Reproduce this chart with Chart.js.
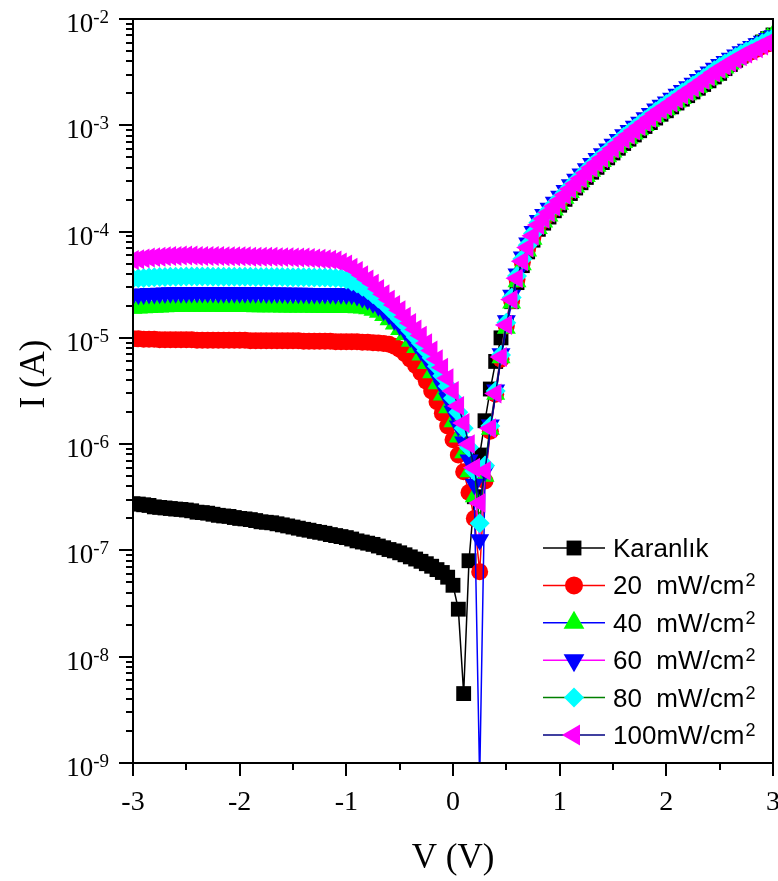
<!DOCTYPE html>
<html>
<head>
<meta charset="utf-8">
<script src="https://cdn.jsdelivr.net/npm/chart.js@4.4.1/dist/chart.umd.min.js"></script>
<style>
  html, body { margin: 0; padding: 0; background: #fff; }
  #wrap { width: 778px; height: 881px; position: relative; }
</style>
</head>
<body>
<div id="wrap"><canvas id="grafico"></canvas></div>
<script>
// tensao (V)
const voltage = [
  -3, -2.95, -2.9, -2.85, -2.8, -2.75, -2.7, -2.65, -2.6, -2.55,
  -2.5, -2.45, -2.4, -2.35, -2.3, -2.25, -2.2, -2.15, -2.1, -2.05,
  -2, -1.95, -1.9, -1.85, -1.8, -1.75, -1.7, -1.65, -1.6, -1.55,
  -1.5, -1.45, -1.4, -1.35, -1.3, -1.25, -1.2, -1.15, -1.1, -1.05,
  -1, -0.95, -0.9, -0.85, -0.8, -0.75, -0.7, -0.65, -0.6, -0.55,
  -0.5, -0.45, -0.4, -0.35, -0.3, -0.25, -0.2, -0.15, -0.1, -0.05,
  0, 0.05, 0.1, 0.15, 0.2, 0.25, 0.3, 0.35, 0.4, 0.45,
  0.5, 0.55, 0.6, 0.65, 0.7, 0.75, 0.8, 0.85, 0.9, 0.95,
  1, 1.05, 1.1, 1.15, 1.2, 1.25, 1.3, 1.35, 1.4, 1.45,
  1.5, 1.55, 1.6, 1.65, 1.7, 1.75, 1.8, 1.85, 1.9, 1.95,
  2, 2.05, 2.1, 2.15, 2.2, 2.25, 2.3, 2.35, 2.4, 2.45,
  2.5, 2.55, 2.6, 2.65, 2.7, 2.75, 2.8, 2.85, 2.9, 2.95,
  3
];

// corrente (A)
const karanlik = [
  2.75e-7, 2.73e-7, 2.69e-7, 2.65e-7, 2.57e-7, 2.54e-7, 2.51e-7, 2.48e-7, 2.45e-7, 2.43e-7,
  2.40e-7, 2.36e-7, 2.29e-7, 2.27e-7, 2.24e-7, 2.19e-7, 2.14e-7, 2.11e-7, 2.09e-7, 2.04e-7,
  2.00e-7, 1.98e-7, 1.95e-7, 1.91e-7, 1.86e-7, 1.84e-7, 1.82e-7, 1.78e-7, 1.74e-7, 1.70e-7,
  1.66e-7, 1.62e-7, 1.58e-7, 1.55e-7, 1.51e-7, 1.48e-7, 1.45e-7, 1.41e-7, 1.38e-7, 1.35e-7,
  1.32e-7, 1.28e-7, 1.23e-7, 1.20e-7, 1.17e-7, 1.14e-7, 1.10e-7, 1.06e-7, 1.02e-7, 9.9e-8,
  9.5e-8, 9.1e-8, 8.7e-8, 8.3e-8, 7.9e-8, 7.5e-8, 7.1e-8, 6.6e-8, 6.2e-8, 5.6e-8,
  4.7e-8, 2.8e-8, 4.5e-9, 8.0e-8, 3.2e-7, 7.9e-7, 1.66e-6, 3.3e-6, 6.0e-6, 1.0e-5,
  1.38e-5, 2.19e-5, 3.31e-5, 4.78e-5, 6.44e-5, 8.3e-5, 1.05e-4, 1.2e-4, 1.37e-4, 1.57e-4,
  1.77e-4, 2.01e-4, 2.28e-4, 2.57e-4, 2.88e-4, 3.23e-4, 3.62e-4, 4.02e-4, 4.46e-4, 4.94e-4,
  5.49e-4, 6.08e-4, 6.74e-4, 7.4e-4, 8.11e-4, 8.89e-4, 9.74e-4, 1.06e-3, 1.17e-3, 1.27e-3,
  1.37e-3, 1.49e-3, 1.62e-3, 1.76e-3, 1.9e-3, 2.06e-3, 2.23e-3, 2.42e-3, 2.62e-3, 2.85e-3,
  3.08e-3, 3.41e-3, 3.73e-3, 4.09e-3, 4.47e-3, 4.83e-3, 5.21e-3, 5.63e-3, 6.07e-3, 6.55e-3,
  7.07e-3
];
const p20 = [
  9.8e-6, 9.8e-6, 9.7e-6, 9.7e-6, 9.7e-6, 9.6e-6, 9.6e-6, 9.6e-6, 9.6e-6, 9.6e-6,
  9.6e-6, 9.6e-6, 9.5e-6, 9.5e-6, 9.5e-6, 9.5e-6, 9.5e-6, 9.5e-6, 9.5e-6, 9.5e-6,
  9.5e-6, 9.5e-6, 9.4e-6, 9.4e-6, 9.4e-6, 9.4e-6, 9.4e-6, 9.4e-6, 9.4e-6, 9.4e-6,
  9.4e-6, 9.4e-6, 9.3e-6, 9.3e-6, 9.3e-6, 9.3e-6, 9.3e-6, 9.3e-6, 9.2e-6, 9.2e-6,
  9.2e-6, 9.2e-6, 9.2e-6, 9.1e-6, 9.1e-6, 9.0e-6, 8.95e-6, 8.85e-6, 8.7e-6, 8.35e-6,
  7.8e-6, 7.1e-6, 6.3e-6, 5.5e-6, 4.7e-6, 3.9e-6, 3.16e-6, 2.5e-6, 1.95e-6, 1.48e-6,
  1.1e-6, 7.9e-7, 5.5e-7, 3.5e-7, 2.0e-7, 6.3e-8, 4.5e-7, 1.32e-6, 2.95e-6, 6.3e-6,
  1.29e-5, 2.24e-5, 3.56e-5, 5.15e-5, 6.94e-5, 8.94e-5, 1.13e-4, 1.29e-4, 1.48e-4, 1.69e-4,
  1.91e-4, 2.17e-4, 2.46e-4, 2.76e-4, 3.1e-4, 3.48e-4, 3.9e-4, 4.33e-4, 4.8e-4, 5.32e-4,
  5.91e-4, 6.55e-4, 7.26e-4, 7.97e-4, 8.73e-4, 9.57e-4, 1.05e-3, 1.15e-3, 1.26e-3, 1.37e-3,
  1.48e-3, 1.61e-3, 1.74e-3, 1.89e-3, 2.05e-3, 2.21e-3, 2.4e-3, 2.61e-3, 2.82e-3, 3.07e-3,
  3.32e-3, 3.56e-3, 3.81e-3, 4.09e-3, 4.38e-3, 4.64e-3, 4.91e-3, 5.2e-3, 5.51e-3, 5.84e-3,
  6.18e-3
];
const p40 = [
  1.90e-5, 1.91e-5, 1.92e-5, 1.93e-5, 1.94e-5, 1.95e-5, 1.96e-5, 1.97e-5, 1.97e-5, 1.98e-5,
  1.98e-5, 1.98e-5, 1.98e-5, 1.98e-5, 1.98e-5, 1.98e-5, 1.98e-5, 1.97e-5, 1.97e-5, 1.97e-5,
  1.97e-5, 1.97e-5, 1.97e-5, 1.96e-5, 1.96e-5, 1.96e-5, 1.96e-5, 1.96e-5, 1.95e-5, 1.95e-5,
  1.95e-5, 1.95e-5, 1.95e-5, 1.95e-5, 1.94e-5, 1.94e-5, 1.94e-5, 1.94e-5, 1.93e-5, 1.93e-5,
  1.93e-5, 1.93e-5, 1.92e-5, 1.91e-5, 1.88e-5, 1.82e-5, 1.74e-5, 1.62e-5, 1.48e-5, 1.35e-5,
  1.20e-5, 1.07e-5, 9.3e-6, 8.1e-6, 6.9e-6, 5.75e-6, 4.7e-6, 3.7e-6, 2.9e-6, 2.2e-6,
  1.62e-6, 1.17e-6, 8.3e-7, 5.5e-7, 3.2e-7, 7e-10, 5.0e-7, 1.38e-6, 2.95e-6, 6.5e-6,
  1.23e-5, 2.13e-5, 3.38e-5, 4.88e-5, 6.58e-5, 8.48e-5, 1.07e-4, 1.23e-4, 1.4e-4, 1.6e-4,
  1.81e-4, 2.06e-4, 2.33e-4, 2.62e-4, 2.94e-4, 3.3e-4, 3.7e-4, 4.11e-4, 4.56e-4, 5.05e-4,
  5.61e-4, 6.21e-4, 6.89e-4, 7.56e-4, 8.29e-4, 9.09e-4, 9.95e-4, 1.09e-3, 1.2e-3, 1.3e-3,
  1.4e-3, 1.53e-3, 1.66e-3, 1.79e-3, 1.94e-3, 2.1e-3, 2.28e-3, 2.47e-3, 2.68e-3, 2.91e-3,
  3.15e-3, 3.45e-3, 3.77e-3, 4.13e-3, 4.51e-3, 4.87e-3, 5.26e-3, 5.68e-3, 6.13e-3, 6.62e-3,
  7.13e-3
];
const p60 = [
  2.55e-5, 2.57e-5, 2.59e-5, 2.61e-5, 2.62e-5, 2.63e-5, 2.64e-5, 2.65e-5, 2.66e-5, 2.66e-5,
  2.66e-5, 2.67e-5, 2.67e-5, 2.67e-5, 2.67e-5, 2.67e-5, 2.66e-5, 2.66e-5, 2.66e-5, 2.66e-5,
  2.66e-5, 2.65e-5, 2.65e-5, 2.65e-5, 2.65e-5, 2.64e-5, 2.64e-5, 2.64e-5, 2.64e-5, 2.63e-5,
  2.63e-5, 2.63e-5, 2.63e-5, 2.62e-5, 2.62e-5, 2.62e-5, 2.61e-5, 2.61e-5, 2.60e-5, 2.60e-5,
  2.59e-5, 2.57e-5, 2.51e-5, 2.40e-5, 2.29e-5, 2.14e-5, 2.0e-5, 1.82e-5, 1.66e-5, 1.48e-5,
  1.32e-5, 1.17e-5, 1.02e-5, 8.9e-6, 7.6e-6, 6.5e-6, 5.4e-6, 4.4e-6, 3.5e-6, 2.7e-6,
  2.04e-6, 1.48e-6, 1.05e-6, 7.1e-7, 4.2e-7, 1.26e-7, 5.6e-7, 1.51e-6, 3.24e-6, 7.1e-6,
  1.45e-5, 2.52e-5, 3.99e-5, 5.78e-5, 7.79e-5, 1.0e-4, 1.27e-4, 1.45e-4, 1.66e-4, 1.89e-4,
  2.15e-4, 2.43e-4, 2.76e-4, 3.1e-4, 3.48e-4, 3.9e-4, 4.38e-4, 4.86e-4, 5.39e-4, 5.97e-4,
  6.63e-4, 7.35e-4, 8.15e-4, 8.94e-4, 9.8e-4, 1.07e-3, 1.18e-3, 1.29e-3, 1.42e-3, 1.54e-3,
  1.66e-3, 1.8e-3, 1.96e-3, 2.12e-3, 2.3e-3, 2.49e-3, 2.7e-3, 2.93e-3, 3.17e-3, 3.44e-3,
  3.73e-3, 3.99e-3, 4.28e-3, 4.59e-3, 4.92e-3, 5.2e-3, 5.51e-3, 5.84e-3, 6.18e-3, 6.56e-3,
  6.94e-3
];
const p80 = [
  3.60e-5, 3.63e-5, 3.66e-5, 3.69e-5, 3.71e-5, 3.73e-5, 3.74e-5, 3.75e-5, 3.76e-5, 3.76e-5,
  3.77e-5, 3.77e-5, 3.77e-5, 3.77e-5, 3.77e-5, 3.76e-5, 3.76e-5, 3.76e-5, 3.76e-5, 3.75e-5,
  3.75e-5, 3.75e-5, 3.75e-5, 3.74e-5, 3.74e-5, 3.74e-5, 3.73e-5, 3.73e-5, 3.73e-5, 3.72e-5,
  3.72e-5, 3.72e-5, 3.71e-5, 3.71e-5, 3.70e-5, 3.70e-5, 3.69e-5, 3.68e-5, 3.66e-5, 3.63e-5,
  3.55e-5, 3.39e-5, 3.24e-5, 3.02e-5, 2.82e-5, 2.57e-5, 2.34e-5, 2.14e-5, 1.91e-5, 1.70e-5,
  1.51e-5, 1.35e-5, 1.17e-5, 1.02e-5, 8.9e-6, 7.6e-6, 6.5e-6, 5.4e-6, 4.4e-6, 3.5e-6,
  2.7e-6, 2.0e-6, 1.41e-6, 9.3e-7, 5.6e-7, 1.8e-7, 6.3e-7, 1.48e-6, 3.16e-6, 6.9e-6,
  1.39e-5, 2.4e-5, 3.81e-5, 5.51e-5, 7.43e-5, 9.58e-5, 1.21e-4, 1.39e-4, 1.59e-4, 1.81e-4,
  2.05e-4, 2.32e-4, 2.64e-4, 2.96e-4, 3.32e-4, 3.73e-4, 4.18e-4, 4.64e-4, 5.15e-4, 5.7e-4,
  6.33e-4, 7.01e-4, 7.78e-4, 8.54e-4, 9.36e-4, 1.03e-3, 1.12e-3, 1.23e-3, 1.35e-3, 1.47e-3,
  1.59e-3, 1.72e-3, 1.87e-3, 2.03e-3, 2.19e-3, 2.37e-3, 2.57e-3, 2.79e-3, 3.02e-3, 3.29e-3,
  3.56e-3, 3.81e-3, 4.08e-3, 4.38e-3, 4.69e-3, 4.97e-3, 5.26e-3, 5.58e-3, 5.9e-3, 6.26e-3,
  6.63e-3
];
const p100 = [
  5.4e-5, 5.5e-5, 5.6e-5, 5.7e-5, 5.75e-5, 5.8e-5, 5.85e-5, 5.9e-5, 5.9e-5, 5.95e-5,
  5.95e-5, 5.95e-5, 5.9e-5, 5.9e-5, 5.9e-5, 5.9e-5, 5.9e-5, 5.85e-5, 5.85e-5, 5.85e-5,
  5.85e-5, 5.85e-5, 5.8e-5, 5.8e-5, 5.8e-5, 5.8e-5, 5.8e-5, 5.75e-5, 5.75e-5, 5.75e-5,
  5.7e-5, 5.7e-5, 5.7e-5, 5.65e-5, 5.6e-5, 5.55e-5, 5.5e-5, 5.45e-5, 5.35e-5, 5.13e-5,
  4.9e-5, 4.57e-5, 4.27e-5, 3.89e-5, 3.55e-5, 3.24e-5, 2.88e-5, 2.57e-5, 2.29e-5, 2.04e-5,
  1.82e-5, 1.58e-5, 1.38e-5, 1.2e-5, 1.05e-5, 8.9e-6, 7.6e-6, 6.3e-6, 5.25e-6, 4.17e-6,
  3.16e-6, 2.29e-6, 1.58e-6, 1.0e-6, 6.0e-7, 2.8e-7, 5.6e-7, 1.41e-6, 3.0e-6, 6.6e-6,
  1.32e-5, 2.29e-5, 3.63e-5, 5.25e-5, 7.08e-5, 9.12e-5, 1.15e-4, 1.32e-4, 1.51e-4, 1.72e-4,
  1.95e-4, 2.21e-4, 2.51e-4, 2.82e-4, 3.16e-4, 3.55e-4, 3.98e-4, 4.42e-4, 4.9e-4, 5.43e-4,
  6.03e-4, 6.68e-4, 7.41e-4, 8.13e-4, 8.91e-4, 9.77e-4, 1.07e-3, 1.17e-3, 1.29e-3, 1.4e-3,
  1.51e-3, 1.64e-3, 1.78e-3, 1.93e-3, 2.09e-3, 2.26e-3, 2.45e-3, 2.66e-3, 2.88e-3, 3.13e-3,
  3.39e-3, 3.63e-3, 3.89e-3, 4.17e-3, 4.47e-3, 4.73e-3, 5.01e-3, 5.31e-3, 5.62e-3, 5.96e-3,
  6.31e-3
];

const rotulos = ["Karanlık", "20  mW/cm", "40  mW/cm", "60  mW/cm", "80  mW/cm", "100mW/cm"];
const xTicks = [-3, -2, -1, 0, 1, 2, 3];
const yExpoentes = [-9, -8, -7, -6, -5, -4, -3, -2];

// estilo de cada serie
const estilos = [
  { valores: karanlik, linha: "#000000", cor: "#000000", forma: "rect", r: 10.5, rot: 0, sup: false },
  { valores: p20, linha: "#ff0000", cor: "#ff0000", forma: "circle", r: 8.5, rot: 0, sup: true },
  { valores: p40, linha: "#0000ff", cor: "#00ff00", forma: "triangle", r: 11, rot: 0, sup: true },
  { valores: p60, linha: "#ff00ff", cor: "#0000ff", forma: "triangle", r: 11, rot: 180, sup: true },
  { valores: p80, linha: "#008000", cor: "#00ffff", forma: "rectRot", r: 10, rot: 0, sup: true },
  { valores: p100, linha: "#000080", cor: "#ff00ff", forma: "triangle", r: 11.5, rot: -90, sup: true }
];

const desenhaMarcador = (ctx, forma, x, y, r, rot, cor) => {
    ctx.fillStyle = cor;
    ctx.beginPath();
    if (forma === "circle") {
        ctx.arc(x, y, r, 0, Math.PI * 2);
    } else if (forma === "rect") {
        const s = r * Math.SQRT1_2;
        ctx.rect(x - s, y - s, 2 * s, 2 * s);
    } else if (forma === "rectRot") {
        ctx.moveTo(x - r, y); ctx.lineTo(x, y - r); ctx.lineTo(x + r, y); ctx.lineTo(x, y + r);
        ctx.closePath();
    } else {
        let a = rot * Math.PI / 180;
        for (let k = 0; k < 3; k++) {
            const px = x + Math.sin(a) * r, py = y - Math.cos(a) * r;
            if (k === 0) ctx.moveTo(px, py); else ctx.lineTo(px, py);
            a += Math.PI * 2 / 3;
        }
        ctx.closePath();
    }
    ctx.fill();
};

// eixos, ticks e titulos
const eixosPlugin = {
    id: "eixos",
    afterDatasetsDraw(chart) {
        const { ctx, chartArea: a, scales: { x, y } } = chart;
        ctx.save();
        ctx.strokeStyle = "#000";
        ctx.fillStyle = "#000";
        ctx.lineWidth = 2;
        ctx.strokeRect(a.left, a.top, a.right - a.left, a.bottom - a.top);

        ctx.beginPath();
        yExpoentes.forEach(e => {
            for (let k = 1; k <= 9; k++) {
                if (e === -2 && k > 1) break;
                const py = Math.round(y.getPixelForValue(k * Math.pow(10, e)));
                const len = k === 1 ? 14 : 7;
                ctx.moveTo(a.left - len, py);
                ctx.lineTo(a.left, py);
            }
        });
        for (let v = -3; v <= 3.001; v += 0.5) {
            const px = Math.round(x.getPixelForValue(v));
            const len = Math.abs(v - Math.round(v)) < 0.01 ? 13 : 7;
            ctx.moveTo(px, a.bottom);
            ctx.lineTo(px, a.bottom + len);
        }
        ctx.stroke();

        // rotulos do eixo y: 10^n
        ctx.textBaseline = "alphabetic";
        yExpoentes.forEach(e => {
            const py = y.getPixelForValue(Math.pow(10, e));
            ctx.font = '19px "Liberation Serif"';
            ctx.textAlign = "right";
            const exp = String(e);
            const w = ctx.measureText(exp).width;
            ctx.fillText(exp, 109, py + 4);
            ctx.font = '27px "Liberation Serif"';
            ctx.fillText("10", 109 - w, py + 13);
        });

        // rotulos do eixo x
        ctx.font = '28px "Liberation Serif"';
        ctx.textAlign = "center";
        xTicks.forEach(v => {
            ctx.fillText(String(v), x.getPixelForValue(v), a.bottom + 47);
        });

        // titulos
        ctx.font = '35px "Liberation Serif"';
        ctx.fillText("V (V)", (a.left + a.right) / 2, 868);
        ctx.save();
        ctx.translate(44, 374);
        ctx.rotate(-Math.PI / 2);
        ctx.fillText("I (A)", 0, 0);
        ctx.restore();

        // legenda
        const y0 = 548, passo = 37.4;
        estilos.forEach((s, i) => {
            const ly = y0 + passo * i;
            ctx.strokeStyle = s.linha;
            ctx.lineWidth = 1.5;
            ctx.beginPath();
            ctx.moveTo(543, ly);
            ctx.lineTo(605, ly);
            ctx.stroke();
            const rl = s.forma === "triangle" ? 12 : (s.forma === "circle" ? 9 : s.r);
            desenhaMarcador(ctx, s.forma, 574, ly, rl, s.rot, s.cor);
            ctx.fillStyle = "#000";
            ctx.textAlign = "left";
            ctx.font = '26px "Liberation Sans"';
            ctx.fillText(rotulos[i], 613, ly + 9);
            if (s.sup) {
                const w = ctx.measureText(rotulos[i]).width;
                ctx.font = '18px "Liberation Sans"';
                ctx.fillText("2", 613 + w + 1, ly + 1);
            }
        });
        ctx.restore();
    }
};

const datasets = estilos.map((s, i) => ({
    label: rotulos[i],
    data: voltage.map((v, j) => ({ x: v, y: s.valores[j] })),
    borderColor: s.linha,
    borderWidth: 1.5,
    pointStyle: s.forma,
    pointRadius: s.r,
    pointHoverRadius: s.r,
    pointRotation: s.rot,
    pointBackgroundColor: s.cor,
    pointBorderColor: s.cor,
    pointBorderWidth: 0,
    tension: 0,
    clip: 0,
    order: estilos.length - i
}));

new Chart(document.getElementById("grafico"), {
    type: "line",
    data: { datasets: datasets },
    options: {
        responsive: true,
        maintainAspectRatio: false,
        animation: false,
        devicePixelRatio: 1,
        layout: { autoPadding: false, padding: { top: 19, right: 5, left: 0, bottom: 0 } },
        plugins: { legend: { display: false }, tooltip: { enabled: false } },
        scales: {
            x: {
                type: "linear", min: -3, max: 3,
                ticks: { display: false },
                grid: { display: false },
                border: { display: false },
                afterFit: (s) => { s.height = 118; }
            },
            y: {
                type: "logarithmic", min: 1e-9, max: 1e-2,
                ticks: { display: false },
                grid: { display: false },
                border: { display: false },
                afterFit: (s) => { s.width = 133; }
            }
        }
    },
    plugins: [eixosPlugin]
});
</script>
</body>
</html>
